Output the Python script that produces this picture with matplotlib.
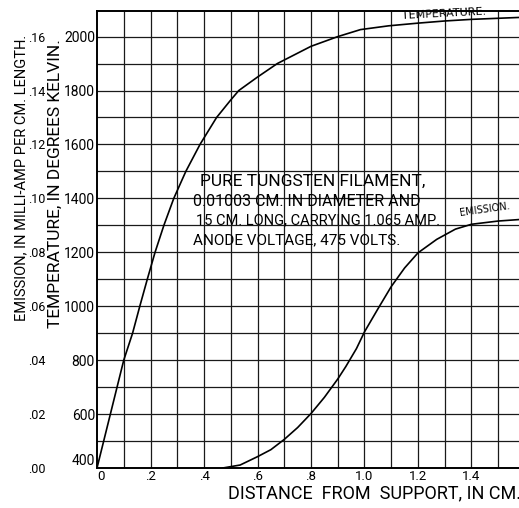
import numpy as np
import matplotlib
matplotlib.use("Agg")
import matplotlib.pyplot as plt

plt.rcParams['font.family'] = ['Roboto', 'DejaVu Sans']

# temperature curve (deg K) vs distance from support (cm)
temp_x = [0, 0.05, 0.1, 0.133, 0.16, 0.188, 0.217, 0.25, 0.287, 0.332, 0.385,
          0.447, 0.5, 0.53, 0.6, 0.674, 0.8, 0.9, 0.985, 1.09, 1.2, 1.3, 1.4, 1.5, 1.6]
temp_y = [400, 600, 800, 900, 1000, 1100, 1200, 1300, 1400, 1500, 1600,
          1700, 1765, 1800, 1850, 1900, 1964, 2000, 2026, 2040, 2050, 2058, 2064, 2068, 2072]

# emission (milli-amp per cm length) vs distance
emis_x = [0.47, 0.535, 0.6, 0.65, 0.7, 0.75, 0.8, 0.85, 0.9, 0.93, 0.97, 1.0,
          1.05, 1.1, 1.15, 1.2, 1.27, 1.34, 1.4, 1.5, 1.6]
emis_y = [0.0, 0.0011, 0.0042, 0.0068, 0.0106, 0.0150, 0.0202, 0.0262, 0.0330,
          0.0376, 0.0443, 0.0505, 0.0590, 0.0673, 0.0742, 0.0798, 0.0848, 0.0886,
          0.0904, 0.0916, 0.0923]

x_ticks = [0, 0.2, 0.4, 0.6, 0.8, 1.0, 1.2, 1.4]
x_labels = ['0', '.2', '.4', '.6', '.8', '1.0', '1.2', '1.4']
temp_ticks = [400, 600, 800, 1000, 1200, 1400, 1600, 1800, 2000]
emis_ticks = [0.00, 0.02, 0.04, 0.06, 0.08, 0.10, 0.12, 0.14, 0.16]
emis_labels = ['.00', '.02', '.04', '.06', '.08', '.10', '.12', '.14', '.16']

W, H = 519, 508
fig = plt.figure(figsize=(W / 100, H / 100), dpi=100)
ax = fig.add_axes([97 / W, 40 / H, 428 / W, 457 / H])

ax.set_xlim(0, 1.6)
ax.set_ylim(400, 2095)

# graph paper grid
for gx in np.arange(0.1, 1.55, 0.1):
    ax.axvline(gx, color='#1a1a1a', lw=0.9, zorder=1)
for gy in range(500, 2100, 100):
    ax.axhline(gy, color='#1a1a1a', lw=0.9, zorder=1)

ax.plot(temp_x, temp_y, color='black', lw=1.2, zorder=3)

# emission scale: .00 at 400 K, .16 at 2000 K
t2e = lambda t: (np.asarray(t) - 400) / 10000
e2t = lambda e: np.asarray(e) * 10000 + 400
ax.plot(emis_x, e2t(emis_y), color='black', lw=1.2, zorder=3)

for s in ax.spines.values():
    s.set_linewidth(1.4)
ax.spines['right'].set_visible(False)

ax.set_xticks(x_ticks)
ax.set_xticklabels(x_labels, fontsize=9.5)
ax.set_yticks(temp_ticks)
ax.set_yticklabels([str(t) for t in temp_ticks], fontsize=10)
ax.tick_params(length=0, pad=1.5)
# corner labels sit apart like on the drawing
ax.get_xticklabels()[0].set_ha('left')
ax.get_yticklabels()[0].set_va('bottom')

sec = ax.secondary_yaxis(-0.12, functions=(t2e, e2t))
sec.set_yticks(emis_ticks)
sec.set_yticklabels(emis_labels, fontsize=9)
sec.tick_params(length=0, pad=0)
for s in sec.spines.values():
    s.set_visible(False)

def px(x, y):
    return x / W, 1 - y / H

fig.text(*px(374, 493), 'DISTANCE  FROM  SUPPORT, IN CM.', fontsize=13,
         ha='center', va='center')
fig.text(*px(55, 184), 'TEMPERATURE, IN DEGREES KELVIN.', fontsize=12.5,
         rotation=90, ha='center', va='center')
fig.text(*px(21, 178), 'EMISSION, IN MILLI-AMP PER CM. LENGTH.', fontsize=10.5,
         rotation=90, ha='center', va='center')

fig.text(*px(200, 181), 'PURE TUNGSTEN FILAMENT,', fontsize=12.5, ha='left', va='center')
fig.text(*px(193, 201), '0.01003 CM. IN DIAMETER AND', fontsize=11.5, ha='left', va='center')
fig.text(*px(196, 220), '15 CM. LONG, CARRYING 1.065 AMP.', fontsize=10.5, ha='left', va='center')
fig.text(*px(193, 240), 'ANODE VOLTAGE, 475 VOLTS.', fontsize=11, ha='left', va='center')

fig.text(*px(444, 14), 'TEMPERATURE.', fontsize=8, rotation=3,
         ha='center', va='center', family='DejaVu Sans')
fig.text(*px(485, 210), 'EMISSION.', fontsize=7, rotation=8,
         ha='center', va='center', family='DejaVu Sans')

fig.savefig('out.png', dpi=100)
